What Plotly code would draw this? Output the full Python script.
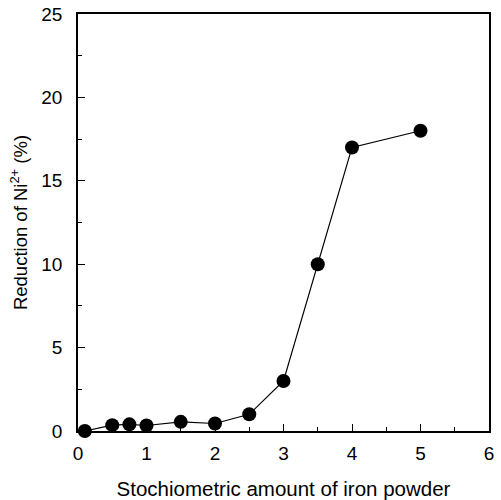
import plotly.graph_objects as go

x_vals = [0.1, 0.5, 0.75, 1.0, 1.5, 2.0, 2.5, 3.0, 3.5, 4.0, 5.0]
y_vals = [0.0, 0.35, 0.4, 0.33, 0.55, 0.45, 1.0, 3.0, 10.0, 17.0, 18.0]

x_title = "Stochiometric amount of iron powder"
y_title = "Reduction of Ni<sup>2+</sup> (%)"

fig = go.Figure()
fig.add_trace(go.Scatter(
    x=x_vals, y=y_vals, mode="lines+markers",
    line=dict(color="black", width=1.2),
    marker=dict(color="black", size=14),
    cliponaxis=False,
    showlegend=False,
))

font = dict(family="Liberation Sans, Arial, sans-serif", color="black")

fig.update_layout(
    width=501, height=500,
    margin=dict(l=78, r=12, t=14, b=69),
    paper_bgcolor="white", plot_bgcolor="white",
    font=dict(**font, size=19),
    xaxis=dict(
        range=[0, 6], tickvals=[0, 1, 2, 3, 4, 5, 6], automargin=False,
        showline=True, linecolor="black", linewidth=1.5, mirror=True,
        ticks="inside", ticklen=7, tickwidth=1.2, tickcolor="black",
        minor=dict(tickvals=[0.5, 1.5, 2.5, 3.5, 4.5, 5.5], ticks="inside", ticklen=4, tickcolor="black"),
        showgrid=False, zeroline=False,
        tickfont=dict(size=19), ticklabelstandoff=4,
        title=dict(text=x_title, font=dict(size=20.5), standoff=22),
    ),
    yaxis=dict(
        range=[0, 25], tickvals=[0, 5, 10, 15, 20, 25], automargin=False,
        showline=True, linecolor="black", linewidth=1.5, mirror=True,
        ticks="inside", ticklen=7, tickwidth=1.2, tickcolor="black",
        minor=dict(tickvals=[2.5, 7.5, 12.5, 17.5, 22.5], ticks="inside", ticklen=4, tickcolor="black"),
        showgrid=False, zeroline=False,
        tickfont=dict(size=19), ticklabelstandoff=10,
        title=dict(text=y_title, font=dict(size=18.5), standoff=9),
    ),
)

fig.write_html("out.html")
